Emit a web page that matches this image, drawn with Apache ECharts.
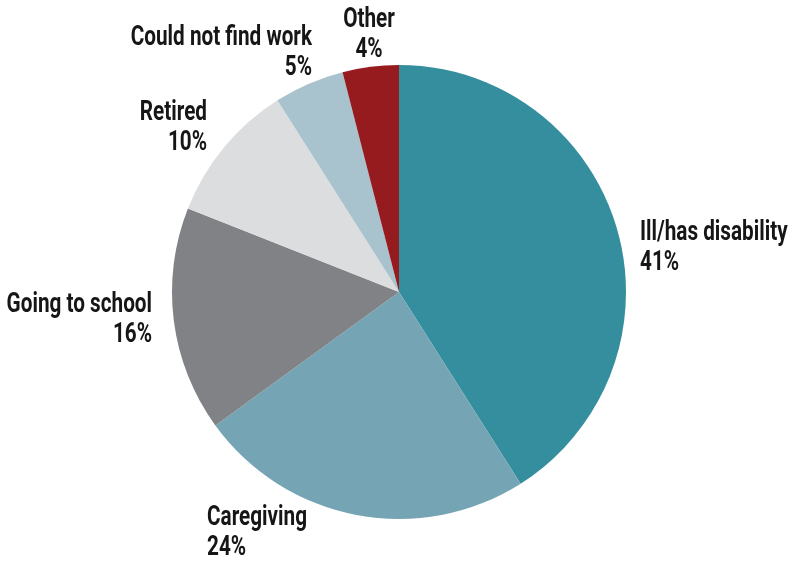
<!DOCTYPE html>
<html><head><meta charset="utf-8">
<script src="https://cdn.jsdelivr.net/npm/echarts@6/dist/echarts.min.js"></script>
<style>html,body{margin:0;padding:0;background:#fff}#c{width:794px;height:561px}</style>
</head><body><div id="c"></div>
<script>
const categories = ["Ill/has disability", "Caregiving", "Going to school", "Retired", "Could not find work", "Other"];
const values = [41, 24, 16, 10, 5, 4];
const colors = ["#348E9E", "#75A5B4", "#808285", "#DCDDDE", "#A9C3CE", "#951B1E"];
// label anchor placement (text layout only)
const labelPlace = [
  {x: 640, y: 248, align: "left"},
  {x: 207, y: 533, align: "left"},
  {x: 152, y: 320, align: "right"},
  {x: 207, y: 128, align: "right"},
  {x: 312, y: 53, align: "right"},
  {x: 369, y: 35, align: "center"}
];
const chart = echarts.init(document.getElementById('c'));
chart.setOption({
  animation: false,
  graphic: categories.map((c, i) => ({
    type: 'text',
    x: labelPlace[i].x,
    y: labelPlace[i].y,
    scaleX: 0.74,
    silent: true,
    style: {
      text: c + '\n' + values[i] + '%',
      font: 'bold 28px Roboto, "DejaVu Sans Condensed", sans-serif',
      lineHeight: 30,
      fill: '#161616',
      align: labelPlace[i].align,
      verticalAlign: 'middle'
    }
  })),
  series: [{
    type: 'pie',
    center: [399, 292],
    radius: [0, 227],
    startAngle: 90,
    clockwise: true,
    avoidLabelOverlap: false,
    itemStyle: {borderWidth: 0},
    emphasis: {disabled: true},
    label: {show: false},
    labelLine: {show: false},
    data: categories.map((c, i) => ({name: c, value: values[i], itemStyle: {color: colors[i]}}))
  }]
});
</script></body></html>
